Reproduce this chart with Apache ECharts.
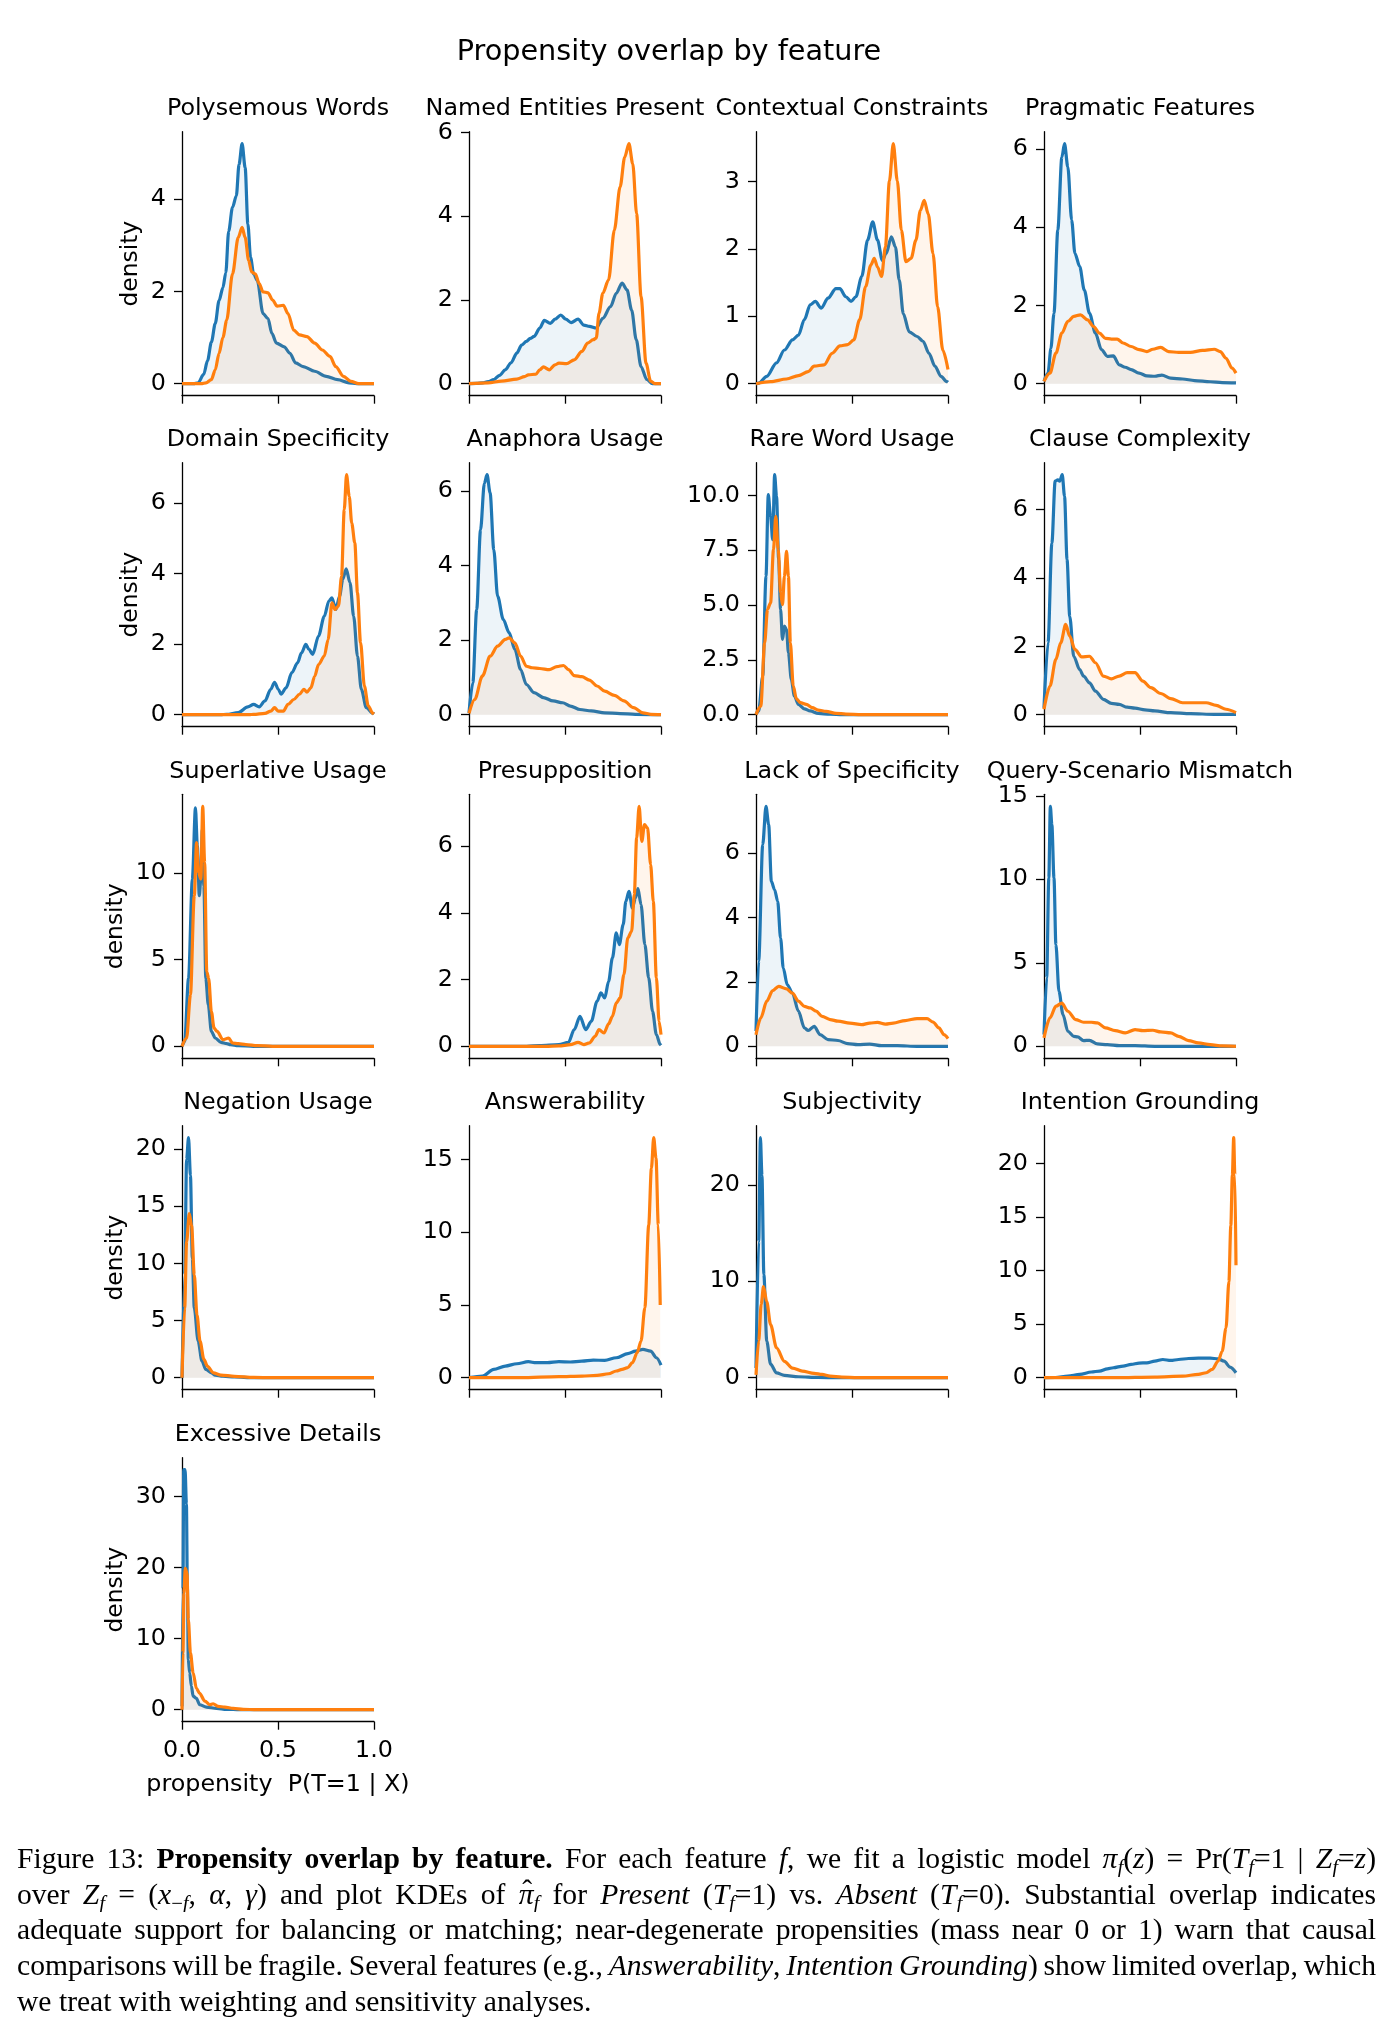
<!DOCTYPE html>
<html>
<head>
<meta charset="utf-8">
<script src="https://cdn.jsdelivr.net/npm/echarts@6/dist/echarts.min.js"></script>
<style>
  html, body { margin: 0; padding: 0; background: #fff; }
  #wrap { position: relative; width: 1396px; height: 2035px; overflow: hidden; }
  #chart { position: absolute; left: 0; top: 0; width: 1396px; height: 2035px; }
  #caption { position: absolute; left: 17px; top: 1841px; width: 1359px;
    font-family: "Liberation Serif", "Times New Roman", serif; font-size: 29.6px; color: #000; }
  #caption .ln { height: 35.7px; line-height: 35.7px; text-align: justify; text-align-last: justify;
    word-spacing: -3px; white-space: normal; overflow: hidden; }
  #caption .ln.last { text-align-last: left; word-spacing: 0; }
  #caption sub { font-size: 70%; vertical-align: -0.28em; line-height: 0; }
  #caption .hat { position: relative; display: inline-block; }
  #caption .hat .h { position: absolute; left: 0.12em; top: -0.12em; font-style: normal; }
</style>
</head>
<body>
<div id="wrap">
  <div id="chart"></div>
  <div id="caption">
    <div class="ln">Figure 13: <b>Propensity overlap by feature.</b> For each feature <i>f</i>, we fit a logistic model <i>π<sub>f</sub></i>(<i>z</i>) = Pr(<i>T<sub>f</sub></i>=1 | <i>Z<sub>f</sub></i>=<i>z</i>)</div>
    <div class="ln">over <i>Z<sub>f</sub></i> = (<i>x</i><sub>−<i>f</i></sub>, <i>α</i>, <i>γ</i>) and plot KDEs of <span class="hat"><i>π</i><span class="h">ˆ</span></span><sub><i>f</i></sub> for <i>Present</i> (<i>T<sub>f</sub></i>=1) vs. <i>Absent</i> (<i>T<sub>f</sub></i>=0). Substantial overlap indicates</div>
    <div class="ln">adequate support for balancing or matching; near-degenerate propensities (mass near 0 or 1) warn that causal</div>
    <div class="ln">comparisons will be fragile. Several features (e.g., <i>Answerability</i>, <i>Intention Grounding</i>) show limited overlap, which</div>
    <div class="ln last">we treat with weighting and sensitivity analyses.</div>
  </div>
</div>
<script>
// ---------------- DATA ----------------
const suptitle = 'Propensity overlap by feature';
const features = [
  'Polysemous Words', 'Named Entities Present', 'Contextual Constraints', 'Pragmatic Features',
  'Domain Specificity', 'Anaphora Usage', 'Rare Word Usage', 'Clause Complexity',
  'Superlative Usage', 'Presupposition', 'Lack of Specificity', 'Query-Scenario Mismatch',
  'Negation Usage', 'Answerability', 'Subjectivity', 'Intention Grounding',
  'Excessive Details'
];
const xTicks = [0, 0.5, 1.0];
const yTicks = [
  [0, 2, 4], [0, 2, 4, 6], [0, 1, 2, 3], [0, 2, 4, 6],
  [0, 2, 4, 6], [0, 2, 4, 6], [0, 2.5, 5, 7.5, 10], [0, 2, 4, 6],
  [0, 5, 10], [0, 2, 4, 6], [0, 2, 4, 6], [0, 5, 10, 15],
  [0, 5, 10, 15, 20], [0, 5, 10, 15], [0, 10, 20], [0, 5, 10, 15, 20],
  [0, 10, 20, 30]
];
const yTickDecimals = [0,0,0,0, 0,0,1,0, 0,0,0,0, 0,0,0,0, 0];

// Absent (T=0) curves  [propensity, density]
const absent_polysemous = [[0,0],[0.06,0],[0.084,0.02],[0.113,0.2],[0.133,0.5],[0.153,0.9],[0.173,1.3],[0.193,1.8],[0.213,2.08],[0.228,2.4],[0.243,3.3],[0.263,3.82],[0.283,4.07],[0.297,4.75],[0.313,5.2],[0.329,4.68],[0.343,3.46],[0.357,2.74],[0.373,2.38],[0.392,2.24],[0.422,1.52],[0.448,1.41],[0.468,1.09],[0.492,0.88],[0.532,0.80],[0.562,0.66],[0.592,0.45],[0.631,0.37],[0.691,0.27],[0.751,0.16],[0.811,0.09],[0.87,0.02],[0.91,0],[1,0]];
const absent_named = [[0,0],[0.04,0.01],[0.07,0.02],[0.1,0.05],[0.129,0.1],[0.159,0.2],[0.189,0.33],[0.219,0.5],[0.249,0.73],[0.274,0.92],[0.299,1.01],[0.319,1.08],[0.339,1.13],[0.369,1.33],[0.392,1.51],[0.424,1.44],[0.448,1.54],[0.478,1.64],[0.504,1.54],[0.532,1.46],[0.568,1.54],[0.598,1.40],[0.627,1.37],[0.663,1.33],[0.697,1.56],[0.737,1.84],[0.767,2.16],[0.797,2.40],[0.823,2.24],[0.847,1.76],[0.871,1.05],[0.896,0.41],[0.926,0.10],[0.956,0],[1,0]];
const absent_contextual = [[0,0],[0.014,0.01],[0.056,0.11],[0.107,0.31],[0.148,0.50],[0.19,0.65],[0.221,0.72],[0.252,0.95],[0.282,1.17],[0.309,1.22],[0.340,1.12],[0.375,1.27],[0.416,1.41],[0.437,1.41],[0.468,1.29],[0.495,1.22],[0.520,1.29],[0.551,1.59],[0.581,2.13],[0.608,2.40],[0.633,2.13],[0.658,1.83],[0.678,1.93],[0.705,2.18],[0.726,2.03],[0.746,1.54],[0.767,1.04],[0.798,0.77],[0.839,0.70],[0.870,0.63],[0.901,0.45],[0.932,0.26],[0.963,0.11],[0.994,0.03],[1,0.02]];
const absent_pragmatic = [[0,0.06],[0.021,0.27],[0.036,0.9],[0.052,1.80],[0.072,3.93],[0.093,5.79],[0.107,6.13],[0.124,5.54],[0.144,4.18],[0.161,3.33],[0.186,2.99],[0.210,2.39],[0.237,1.80],[0.268,1.29],[0.299,0.87],[0.330,0.70],[0.361,0.71],[0.392,0.48],[0.423,0.42],[0.454,0.36],[0.495,0.27],[0.536,0.20],[0.577,0.19],[0.614,0.22],[0.660,0.14],[0.722,0.12],[0.784,0.08],[0.866,0.05],[0.928,0.03],[1,0.02]];
const absent_domain = [[0,0],[0.2,0],[0.233,0.01],[0.293,0.06],[0.343,0.22],[0.373,0.29],[0.402,0.22],[0.432,0.39],[0.462,0.72],[0.482,0.92],[0.502,0.72],[0.516,0.58],[0.542,0.76],[0.572,1.19],[0.602,1.47],[0.622,1.75],[0.645,1.99],[0.661,1.85],[0.681,1.71],[0.711,2.23],[0.741,2.79],[0.765,3.22],[0.781,3.31],[0.801,2.98],[0.821,3.36],[0.837,3.83],[0.855,4.13],[0.875,3.74],[0.894,2.79],[0.914,1.66],[0.934,0.72],[0.96,0.20],[0.994,0.04],[1,0.02]];
const absent_anaphora = [[0,0.05],[0.02,0.86],[0.04,2.82],[0.06,4.96],[0.08,6.21],[0.094,6.44],[0.11,5.95],[0.129,4.43],[0.149,3.18],[0.179,2.55],[0.209,2.20],[0.239,1.75],[0.269,1.21],[0.299,0.81],[0.339,0.59],[0.388,0.46],[0.438,0.37],[0.488,0.32],[0.528,0.23],[0.578,0.14],[0.637,0.10],[0.707,0.05],[0.787,0.03],[0.867,0.01],[1,0]];
const absent_rare = [[0,0.02],[0.014,0.17],[0.035,1.76],[0.052,6.31],[0.064,10.03],[0.076,9.04],[0.087,7.98],[0.097,10.94],[0.107,9.95],[0.118,7.07],[0.128,4.80],[0.138,3.43],[0.148,4.04],[0.159,3.88],[0.169,2.82],[0.184,1.61],[0.2,0.85],[0.221,0.47],[0.252,0.27],[0.282,0.17],[0.324,0.06],[0.386,0.02],[0.45,0],[1,0]];
const absent_clause = [[0,0.20],[0.021,2.10],[0.041,5.02],[0.058,6.83],[0.072,6.87],[0.082,6.83],[0.095,7.02],[0.107,6.39],[0.120,4.54],[0.134,2.88],[0.155,1.71],[0.186,1.32],[0.206,1.13],[0.237,0.93],[0.268,0.69],[0.309,0.45],[0.351,0.33],[0.392,0.30],[0.433,0.22],[0.474,0.19],[0.526,0.14],[0.577,0.11],[0.660,0.06],[0.763,0.03],[0.887,0.01],[1,0.01]];
const absent_superlative = [[0,0],[0.014,0.29],[0.034,3.92],[0.054,9.66],[0.070,13.77],[0.080,11.57],[0.090,8.70],[0.098,9.66],[0.106,12.52],[0.114,9.27],[0.124,3.92],[0.137,2.39],[0.153,0.86],[0.173,0.48],[0.203,0.23],[0.233,0.15],[0.253,0.10],[0.293,0.04],[0.373,0],[1,0]];
const absent_presupposition = [[0,0],[0.3,0],[0.368,0.02],[0.468,0.05],[0.518,0.12],[0.548,0.50],[0.578,0.90],[0.608,0.50],[0.637,0.75],[0.667,1.35],[0.687,1.60],[0.707,1.45],[0.727,1.95],[0.747,2.65],[0.767,3.40],[0.783,3.05],[0.803,3.65],[0.817,4.35],[0.833,4.65],[0.851,4.15],[0.867,4.45],[0.880,4.73],[0.896,4.25],[0.916,3.05],[0.936,2.05],[0.956,1.05],[0.976,0.35],[0.996,0.05],[1,0.03]];
const absent_lack = [[0,0.47],[0.014,2.64],[0.035,6.26],[0.052,7.45],[0.066,6.88],[0.080,5.12],[0.097,4.86],[0.113,4.50],[0.128,3.36],[0.142,2.43],[0.163,1.91],[0.190,1.65],[0.221,1.09],[0.252,0.57],[0.272,0.49],[0.303,0.62],[0.334,0.36],[0.375,0.21],[0.427,0.18],[0.478,0.08],[0.530,0.05],[0.592,0.07],[0.654,0.02],[0.736,0.02],[0.839,0],[1,0]];
const absent_query = [[0,0.70],[0.014,4.09],[0.025,10.08],[0.033,14.37],[0.041,13.27],[0.052,10.08],[0.062,6.09],[0.078,3.29],[0.099,1.90],[0.124,0.90],[0.155,0.60],[0.175,0.56],[0.206,0.34],[0.237,0.36],[0.278,0.14],[0.330,0.10],[0.392,0.04],[0.474,0.04],[0.577,0],[1,0]];
const absent_negation = [[0,0],[0.014,9],[0.024,19.1],[0.034,21.0],[0.044,17.7],[0.054,10.4],[0.064,6.1],[0.084,3.2],[0.104,1.45],[0.124,0.72],[0.153,0.43],[0.173,0.23],[0.213,0.14],[0.273,0.06],[0.373,0],[1,0]];
const absent_answerability = [[0,0],[0.07,0.11],[0.129,0.57],[0.189,0.80],[0.249,0.96],[0.309,1.10],[0.349,1.03],[0.408,1.03],[0.468,1.10],[0.528,1.08],[0.588,1.14],[0.647,1.21],[0.707,1.19],[0.767,1.37],[0.827,1.65],[0.867,1.83],[0.906,1.95],[0.946,1.83],[0.976,1.37],[1,0.87]];
const absent_subjectivity = [[0,1.0],[0.014,14.1],[0.023,24.9],[0.031,21.0],[0.041,10.7],[0.056,3.8],[0.076,1.4],[0.107,0.5],[0.148,0.24],[0.221,0.1],[0.324,0.03],[0.427,0],[1,0]];
const absent_intention = [[0,0],[0.06,0.02],[0.124,0.15],[0.186,0.31],[0.247,0.53],[0.289,0.62],[0.330,0.83],[0.361,0.93],[0.412,1.08],[0.454,1.24],[0.495,1.36],[0.536,1.39],[0.577,1.55],[0.619,1.70],[0.660,1.61],[0.701,1.70],[0.753,1.79],[0.804,1.82],[0.866,1.82],[0.907,1.76],[0.938,1.55],[0.969,0.99],[1,0.46]];
const absent_excessive = [[0,0.5],[0.005,17],[0.009,33.8],[0.016,33.8],[0.023,29],[0.028,17.3],[0.033,7.0],[0.040,5.2],[0.049,3.3],[0.058,1.9],[0.075,1.6],[0.092,0.7],[0.127,0.37],[0.180,0.19],[0.232,0.05],[0.30,0],[1,0]];

// Present (T=1) curves  [propensity, density]
const present_polysemous = [[0,0],[0.1,0],[0.125,0.02],[0.153,0.09],[0.173,0.3],[0.193,0.66],[0.213,1.0],[0.233,1.38],[0.263,2.38],[0.293,3.17],[0.313,3.39],[0.329,3.17],[0.347,2.67],[0.363,2.42],[0.382,2.38],[0.402,2.17],[0.422,1.99],[0.448,1.97],[0.472,1.81],[0.496,1.68],[0.528,1.70],[0.552,1.52],[0.582,1.16],[0.612,1.06],[0.651,1.02],[0.691,0.88],[0.731,0.73],[0.771,0.59],[0.801,0.37],[0.841,0.16],[0.88,0.05],[0.92,0],[1,0]];
const present_named = [[0,0],[0.1,0.02],[0.169,0.06],[0.249,0.11],[0.289,0.17],[0.309,0.21],[0.349,0.23],[0.368,0.33],[0.388,0.40],[0.418,0.33],[0.448,0.45],[0.468,0.49],[0.508,0.48],[0.548,0.57],[0.588,0.77],[0.618,0.97],[0.647,1.05],[0.663,1.09],[0.677,1.68],[0.697,2.16],[0.727,2.48],[0.757,3.67],[0.787,4.70],[0.811,5.41],[0.833,5.73],[0.853,5.25],[0.873,4.06],[0.896,2.08],[0.922,0.49],[0.946,0.06],[0.97,0],[1,0]];
const present_contextual = [[0,0],[0.076,0.03],[0.159,0.07],[0.221,0.12],[0.272,0.18],[0.303,0.26],[0.355,0.28],[0.396,0.45],[0.437,0.56],[0.478,0.58],[0.509,0.65],[0.540,0.95],[0.571,1.44],[0.598,1.76],[0.616,1.86],[0.633,1.73],[0.654,1.59],[0.674,2.03],[0.695,3.01],[0.715,3.56],[0.736,3.01],[0.757,2.28],[0.781,1.81],[0.808,1.86],[0.833,2.13],[0.856,2.57],[0.876,2.72],[0.897,2.52],[0.922,1.93],[0.946,1.14],[0.973,0.50],[1,0.21]];
const present_pragmatic = [[0,0.06],[0.031,0.27],[0.062,0.78],[0.093,1.29],[0.124,1.59],[0.155,1.72],[0.190,1.76],[0.227,1.63],[0.258,1.46],[0.289,1.29],[0.320,1.16],[0.351,1.14],[0.381,1.14],[0.412,1.04],[0.454,0.95],[0.495,0.87],[0.536,0.82],[0.567,0.88],[0.608,0.93],[0.649,0.82],[0.701,0.80],[0.763,0.80],[0.825,0.85],[0.887,0.88],[0.918,0.82],[0.948,0.65],[0.979,0.40],[1,0.27]];
const present_domain = [[0,0],[0.35,0],[0.373,0.01],[0.432,0.04],[0.462,0.10],[0.482,0.20],[0.502,0.10],[0.528,0.10],[0.552,0.29],[0.582,0.43],[0.612,0.58],[0.635,0.72],[0.651,0.64],[0.671,0.76],[0.691,1.09],[0.711,1.42],[0.741,1.66],[0.761,2.13],[0.781,3.17],[0.797,2.98],[0.815,3.08],[0.831,3.92],[0.845,5.81],[0.857,6.80],[0.871,6.19],[0.884,5.43],[0.900,4.87],[0.914,3.45],[0.930,2.04],[0.95,0.81],[0.970,0.25],[0.994,0.04],[1,0.02]];
const present_anaphora = [[0,0.04],[0.03,0.41],[0.07,1.04],[0.11,1.57],[0.149,1.84],[0.189,2.02],[0.209,2.06],[0.239,1.93],[0.269,1.57],[0.299,1.30],[0.329,1.26],[0.369,1.24],[0.418,1.21],[0.458,1.29],[0.492,1.32],[0.518,1.21],[0.548,1.05],[0.588,1.02],[0.627,0.93],[0.667,0.77],[0.707,0.63],[0.757,0.52],[0.807,0.37],[0.857,0.19],[0.906,0.05],[0.946,0.01],[1,0]];
const present_rare = [[0,0],[0.025,0.39],[0.045,3.28],[0.060,4.80],[0.076,5.10],[0.091,7.53],[0.103,9.04],[0.116,7.53],[0.128,5.55],[0.138,5.02],[0.148,6.31],[0.159,7.45],[0.169,6.31],[0.179,3.28],[0.194,1.31],[0.21,0.73],[0.231,0.55],[0.262,0.47],[0.293,0.32],[0.324,0.21],[0.365,0.15],[0.417,0.06],[0.468,0.03],[0.55,0],[1,0]];
const present_clause = [[0,0.16],[0.031,0.84],[0.062,1.62],[0.087,2.10],[0.113,2.64],[0.134,2.30],[0.161,1.91],[0.196,1.69],[0.237,1.71],[0.268,1.52],[0.309,1.13],[0.351,1.05],[0.392,1.13],[0.433,1.23],[0.474,1.23],[0.515,0.98],[0.557,0.79],[0.608,0.62],[0.660,0.47],[0.722,0.35],[0.784,0.35],[0.845,0.35],[0.897,0.27],[0.948,0.16],[1,0.06]];
const present_superlative = [[0,0],[0.024,0.48],[0.044,2.96],[0.064,8.70],[0.076,11.76],[0.086,10.04],[0.098,9.66],[0.108,13.86],[0.118,10.61],[0.129,4.30],[0.139,3.92],[0.153,2.01],[0.167,1.05],[0.183,0.86],[0.213,0.38],[0.243,0.48],[0.263,0.19],[0.293,0.15],[0.333,0.10],[0.392,0.04],[0.472,0],[1,0]];
const present_presupposition = [[0,0],[0.4,0],[0.468,0.01],[0.528,0.05],[0.568,0.12],[0.598,0.05],[0.627,0.10],[0.657,0.30],[0.677,0.50],[0.703,0.40],[0.727,0.67],[0.747,0.90],[0.767,1.30],[0.787,1.45],[0.807,2.15],[0.827,3.25],[0.847,3.45],[0.861,4.55],[0.873,6.25],[0.886,7.20],[0.900,6.15],[0.914,6.65],[0.930,6.55],[0.946,5.45],[0.960,4.35],[0.976,2.05],[0.99,0.75],[1,0.35]];
const present_lack = [[0,0.36],[0.025,0.88],[0.056,1.40],[0.087,1.73],[0.118,1.86],[0.159,1.78],[0.190,1.65],[0.221,1.40],[0.252,1.24],[0.282,1.19],[0.313,1.09],[0.344,0.93],[0.386,0.83],[0.427,0.78],[0.489,0.72],[0.551,0.67],[0.592,0.72],[0.633,0.74],[0.674,0.69],[0.715,0.72],[0.777,0.80],[0.839,0.86],[0.891,0.86],[0.922,0.75],[0.953,0.57],[0.979,0.36],[1,0.24]];
const present_query = [[0,0.50],[0.031,1.70],[0.062,2.40],[0.093,2.59],[0.124,2.10],[0.165,1.60],[0.206,1.44],[0.247,1.44],[0.278,1.40],[0.320,1.10],[0.371,0.94],[0.423,0.80],[0.474,1.00],[0.515,0.94],[0.567,0.96],[0.608,0.86],[0.660,0.80],[0.701,0.60],[0.753,0.34],[0.804,0.20],[0.866,0.10],[0.928,0.02],[1,0]];
const present_negation = [[0,0],[0.014,6.1],[0.024,11.9],[0.038,14.35],[0.050,13.3],[0.064,9.0],[0.078,5.5],[0.094,3.2],[0.114,1.6],[0.133,1.0],[0.163,0.43],[0.203,0.23],[0.273,0.12],[0.373,0.03],[0.472,0],[1,0]];
const present_answerability = [[0,0],[0.269,0],[0.468,0.07],[0.588,0.11],[0.667,0.16],[0.727,0.27],[0.767,0.46],[0.797,0.57],[0.827,0.69],[0.851,1.03],[0.876,1.72],[0.896,2.52],[0.916,4.81],[0.936,10.5],[0.950,14.4],[0.962,16.5],[0.974,15.1],[0.986,10.5],[0.996,5.0]];
const present_subjectivity = [[0,0.3],[0.014,3.8],[0.027,7.6],[0.039,9.45],[0.056,7.9],[0.076,5.5],[0.107,3.1],[0.148,1.7],[0.190,1.0],[0.241,0.69],[0.303,0.45],[0.344,0.34],[0.386,0.17],[0.447,0.07],[0.530,0],[1,0]];
const present_intention = [[0,0],[0.371,0],[0.577,0.06],[0.722,0.15],[0.804,0.31],[0.845,0.46],[0.876,0.77],[0.907,1.55],[0.928,2.47],[0.948,4.64],[0.963,8.96],[0.973,14.2],[0.981,18.9],[0.988,22.4],[0.994,18.9],[1,10.5]];
const present_excessive = [[0,0],[0.005,8],[0.010,16.4],[0.017,19.9],[0.026,19.2],[0.033,12.7],[0.044,8.0],[0.058,5.2],[0.075,3.0],[0.092,2.3],[0.119,1.2],[0.145,0.7],[0.162,0.84],[0.188,0.47],[0.223,0.37],[0.267,0.19],[0.319,0.05],[0.389,0],[1,0]];

const absentCurves = [absent_polysemous, absent_named, absent_contextual, absent_pragmatic,
  absent_domain, absent_anaphora, absent_rare, absent_clause,
  absent_superlative, absent_presupposition, absent_lack, absent_query,
  absent_negation, absent_answerability, absent_subjectivity, absent_intention,
  absent_excessive];
const presentCurves = [present_polysemous, present_named, present_contextual, present_pragmatic,
  present_domain, present_anaphora, present_rare, present_clause,
  present_superlative, present_presupposition, present_lack, present_query,
  present_negation, present_answerability, present_subjectivity, present_intention,
  present_excessive];
const seriesNames = ['Absent (T=0)', 'Present (T=1)'];
const xLabel = 'propensity  P(T=1 | X)';
const yLabel = 'density';

// ---------------- LAYOUT / STYLE ----------------
const FONT = '"DejaVu Sans", sans-serif';
const FS = 23.8;
const colLeft = [182, 469, 756, 1044];
const rowTop = [131.7, 462.7, 794.3, 1125.7, 1457.7];
const PW = 192, PH = 264;
const BLUE = '#1f77b4', ORANGE = '#ff7f0e';
const ylabelGap = [40, 40, 55, 55, 55];

const chart = echarts.init(document.getElementById('chart'), null, { renderer: 'canvas' });

const grid = [], xAxis = [], yAxis = [], series = [], graphic = [];

features.forEach((name, i) => {
  const r = Math.floor(i / 4), c = i % 4;
  const left = colLeft[c], top = rowTop[r];
  grid.push({ left: left, top: top, width: PW, height: PH, containLabel: false });
  const isBottom = (i === features.length - 1);
  xAxis.push({
    gridIndex: i, type: 'value', min: 0, max: 1, interval: 0.5,
    axisLine: { show: true, onZero: false, lineStyle: { color: '#000', width: 1.3 } },
    axisTick: { show: true, length: 8, lineStyle: { color: '#000', width: 1.3 } },
    axisLabel: { show: isBottom, showMinLabel: true, showMaxLabel: true, margin: 17,
      formatter: v => v.toFixed(1), fontSize: FS, color: '#000', fontFamily: FONT },
    splitLine: { show: false },
    name: isBottom ? xLabel : '', nameLocation: 'middle', nameGap: 51,
    nameTextStyle: { fontSize: FS, color: '#000', fontFamily: FONT }
  });
  const all = absentCurves[i].concat(presentCurves[i]);
  const M = Math.max(...all.map(p => p[1]));
  const dec = yTickDecimals[i];
  yAxis.push({
    gridIndex: i, type: 'value', min: -0.05 * M, max: 1.05 * M,
    axisLine: { show: true, onZero: false, lineStyle: { color: '#000', width: 1.3 } },
    axisTick: { show: true, length: 8, customValues: yTicks[i], lineStyle: { color: '#000', width: 1.3 } },
    axisLabel: { show: true, customValues: yTicks[i], margin: 16,
      formatter: v => Number(v).toFixed(dec), fontSize: FS, color: '#000', fontFamily: FONT },
    splitLine: { show: false },
    name: c === 0 ? yLabel : '', nameLocation: 'middle', nameRotate: 90, nameGap: ylabelGap[r],
    nameTextStyle: { fontSize: 23.4, color: '#000', fontFamily: FONT }
  });
  [absentCurves[i], presentCurves[i]].forEach((d, k) => {
    const col = k === 0 ? BLUE : ORANGE;
    series.push({
      name: seriesNames[k], type: 'line', xAxisIndex: i, yAxisIndex: i,
      data: d, showSymbol: false, symbol: 'none', smooth: 0.3, smoothMonotone: 'x',
      lineStyle: { color: col, width: 3.2 },
      itemStyle: { color: col },
      areaStyle: { color: col, opacity: 0.08 },
      clip: true, animation: false, z: 2 + k
    });
  });
  graphic.push({ type: 'text', x: left + PW / 2, y: top - 22.5,
    style: { text: name, fill: '#000', font: FS + 'px ' + FONT, textAlign: 'center', textVerticalAlign: 'middle' } });
});
graphic.push({ type: 'text', x: 669, y: 53,
  style: { text: suptitle, fill: '#000', font: '28.7px ' + FONT, textAlign: 'center', textVerticalAlign: 'middle' } });

chart.setOption({
  animation: false,
  backgroundColor: '#fff',
  grid, xAxis, yAxis, series, graphic
});
</script>
</body>
</html>
